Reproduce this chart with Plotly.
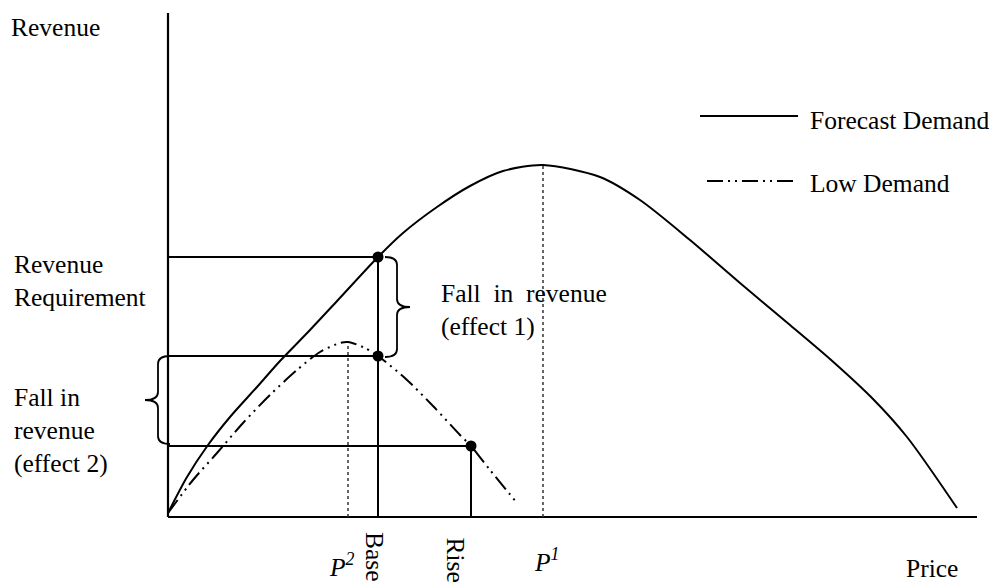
import plotly.graph_objects as go

# revenue curves (price, revenue)
price_forecast = [0, 19, 40, 62, 89, 112, 142, 170, 210, 235, 269, 302, 335, 375,
                  432, 472, 522, 572, 622, 662, 705, 739, 789]
rev_forecast = [4, 40, 72, 100, 130, 156, 187, 217, 260, 284, 310, 331, 346, 352,
                340, 317, 277, 234, 192, 158, 118, 80, 9]

price_low = [0, 25, 49, 75, 102, 129, 152, 172, 180, 195, 210, 239, 265, 292, 303, 322, 349]
rev_low = [4, 37, 64, 94, 122, 147, 165, 174, 175, 170, 161, 137, 111, 82, 71, 47, 14]

# key prices and revenue levels
p1 = 375
p2 = 180
base_price = 210
rise_price = 303
revenue_req = 260
low_at_base = 161
low_at_rise = 71
peak_forecast = 352
peak_low = 175

x_axis_end = 809
y_axis_end = 504

FONT = "Liberation Serif, Times New Roman, serif"
SIZE = 25.5
BLACK = "#000000"


def brace(x_attach, x_spine, x_tip, y_top, y_bot, r=8):
    y_mid = (y_top + y_bot) / 2
    return (f"M {x_attach},{y_top} Q {x_spine},{y_top} {x_spine},{y_top - r} "
            f"L {x_spine},{y_mid + r} Q {x_spine},{y_mid} {x_tip},{y_mid} "
            f"Q {x_spine},{y_mid} {x_spine},{y_mid - r} "
            f"L {x_spine},{y_bot + r} Q {x_spine},{y_bot} {x_attach},{y_bot}")


def seg(fig, xs, ys, width=2, dash="solid", color=BLACK):
    fig.add_trace(go.Scatter(x=xs, y=ys, mode="lines", showlegend=False, hoverinfo="skip",
                             line=dict(color=color, width=width, dash=dash)))


fig = go.Figure()

# axes
seg(fig, [0, x_axis_end], [0, 0], width=2.2)
seg(fig, [0, 0], [0, y_axis_end], width=2.2)

# guide lines
seg(fig, [0, base_price], [revenue_req, revenue_req])
seg(fig, [0, base_price], [low_at_base, low_at_base])
seg(fig, [0, rise_price], [low_at_rise, low_at_rise])
seg(fig, [base_price, base_price], [0, revenue_req])
seg(fig, [rise_price, rise_price], [0, low_at_rise])
seg(fig, [p2, p2], [0, peak_low], width=1.5, dash="dot", color="#333333")
seg(fig, [p1, p1], [0, peak_forecast], width=1.5, dash="dot", color="#333333")

# curves
fig.add_trace(go.Scatter(x=price_forecast, y=rev_forecast, mode="lines", showlegend=False,
                         line=dict(color=BLACK, width=2, shape="spline", smoothing=0.8)))
low_dash = "16px,5px,2px,5px,2px,5px"
fig.add_trace(go.Scatter(x=price_low, y=rev_low, mode="lines", showlegend=False,
                         line=dict(color=BLACK, width=2, dash=low_dash, shape="spline", smoothing=0.8)))

# points
fig.add_trace(go.Scatter(x=[base_price, base_price, rise_price],
                         y=[revenue_req, low_at_base, low_at_rise],
                         mode="markers", showlegend=False,
                         marker=dict(color=BLACK, size=11)))

# hand-drawn legend
seg(fig, [532, 630], [401, 401])
seg(fig, [539, 630], [336, 336], dash=low_dash)

fig.add_shape(type="path", xref="x", yref="y", line=dict(color=BLACK, width=1.8),
              path=brace(base_price + 7, base_price + 19, base_price + 32, revenue_req, low_at_base - 1))
fig.add_shape(type="path", xref="x", yref="y", line=dict(color=BLACK, width=1.8),
              path=brace(2, -10, -23, low_at_base, low_at_rise + 2))

labels = [
    ("Revenue", -159, 490, "left", "middle", 0),
    ("Revenue<br>Requirement", -156, 236, "left", "middle", 0),
    ("Fall in<br>revenue<br>(effect 2)", -156, 87, "left", "middle", 0),
    ("Fall\u00a0 in\u00a0 revenue<br>(effect 1)", 271, 207, "left", "middle", 0),
    ("Forecast Demand", 640, 397, "left", "middle", 0),
    ("Low Demand", 640, 334, "left", "middle", 0),
    ("<i>P<sup>2</sup></i>", 159, -48, "left", "middle", 0),
    ("<i>P<sup>1</sup></i>", 364, -43, "left", "middle", 0),
    ("Base", 207, -13, "center", "top", 90),
    ("Rise", 287, -18, "center", "top", 90),
    ("Price", 736, -51, "left", "middle", 0),
]
for text, x, y, xa, ya, ang in labels:
    fig.add_annotation(x=x, y=y, xref="x", yref="y", text=text, showarrow=False,
                       xanchor=xa, yanchor=ya, align="left", textangle=ang,
                       font=dict(family=FONT, size=SIZE, color=BLACK))

fig.update_layout(
    width=1000,
    height=584,
    margin=dict(l=0, r=0, t=0, b=0),
    paper_bgcolor="white",
    plot_bgcolor="white",
    xaxis=dict(range=[-168, 832], visible=False, fixedrange=True),
    yaxis=dict(range=[-67, 517], visible=False, fixedrange=True),
    showlegend=False,
    hovermode=False,
)

fig.write_html("out.html", config={"displayModeBar": False},
               post_script="document.body.style.margin = '0px';")
